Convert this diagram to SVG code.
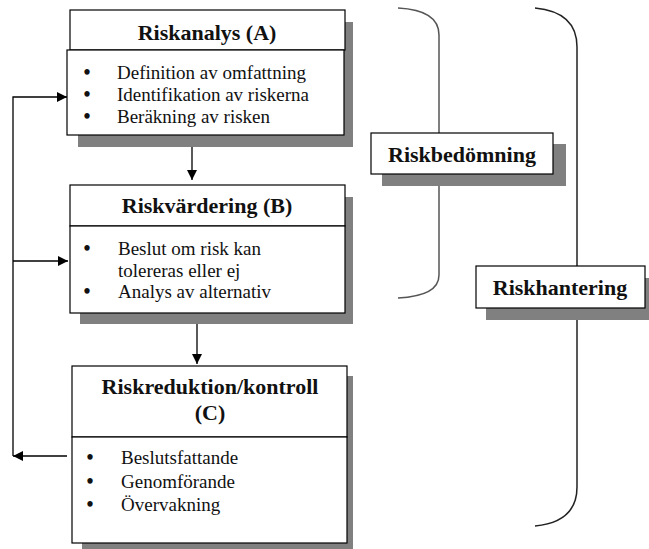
<svg xmlns="http://www.w3.org/2000/svg" width="649" height="549" viewBox="0 0 649 549">
<style>
.box{fill:#fff;stroke:#000;stroke-width:1.2}
.sh{fill:#808080}
.t{font-family:"Liberation Serif","Times New Roman",serif;font-weight:bold;font-size:22px;fill:#111;text-anchor:middle}
.b{font-family:"Liberation Serif","Times New Roman",serif;font-size:19px;fill:#111}
.bu{font-family:"Liberation Serif","Times New Roman",serif;font-size:20px;font-weight:bold;fill:#111;text-anchor:middle}
.ln{stroke:#000;stroke-width:1.3;fill:none}
.br{fill:none;stroke-width:1.5}
</style>
<defs>
<marker id="ah" viewBox="0 0 10 10" refX="10" refY="5" markerWidth="10" markerHeight="10" markerUnits="userSpaceOnUse" orient="auto">
<path d="M0,0 L10,5 L0,10 z" fill="#000"/>
</marker>
</defs>
<rect width="649" height="549" fill="#fff"/>

<g id="brace-bedomning">
<path class="br" stroke="#555" d="M398,8 Q439,10 439,35 L439,275 Q439,296 398,298"/>
</g>
<g id="brace-hantering">
<path class="br" stroke="#222" d="M535,8 Q577,12 577,47 L577,487 Q577,522 535,526"/>
</g>

<g id="connectors">
<line class="ln" x1="192" y1="135" x2="192" y2="180" marker-end="url(#ah)"/>
<line class="ln" x1="197" y1="313" x2="197" y2="364" marker-end="url(#ah)"/>
<line class="ln" x1="67" y1="456" x2="13" y2="456" marker-end="url(#ah)"/>
<polyline class="ln" points="13,456 13,97 67,97" marker-end="url(#ah)"/>
<line class="ln" x1="13" y1="261" x2="68" y2="261" marker-end="url(#ah)"/>
</g>

<g id="riskanalys">
<rect class="sh" x="80" y="22" width="273" height="40"/>
<rect class="sh" x="78" y="60" width="275" height="87"/>
<rect class="box" x="70" y="10" width="275" height="40"/>
<rect class="box" x="67" y="50" width="277" height="85"/>
<text class="t" x="207" y="40">Riskanalys (A)</text>
<text class="bu" x="87" y="79">•</text>
<text class="b" x="117" y="79">Definition av omfattning</text>
<text class="bu" x="87" y="101">•</text>
<text class="b" x="117" y="101">Identifikation av riskerna</text>
<text class="bu" x="87" y="123">•</text>
<text class="b" x="117" y="123">Beräkning av risken</text>
</g>

<g id="riskvardering">
<rect class="sh" x="80" y="197" width="273" height="127"/>
<rect class="box" x="70" y="185" width="275" height="41"/>
<rect class="box" x="70" y="226" width="275" height="87"/>
<text class="t" x="207" y="213">Riskvärdering (B)</text>
<text class="bu" x="87" y="255">•</text>
<text class="b" x="118" y="255">Beslut om risk kan</text>
<text class="b" x="118" y="277">tolereras eller ej</text>
<text class="bu" x="87" y="298">•</text>
<text class="b" x="118" y="298">Analys av alternativ</text>
</g>

<g id="riskreduktion">
<rect class="sh" x="82" y="376" width="271" height="173"/>
<rect class="box" x="72" y="366" width="275" height="71"/>
<rect class="box" x="72" y="437" width="275" height="106"/>
<text class="t" x="210" y="394">Riskreduktion/kontroll</text>
<text class="t" x="210" y="420">(C)</text>
<text class="bu" x="90" y="464">•</text>
<text class="b" x="121" y="464">Beslutsfattande</text>
<text class="bu" x="90" y="488">•</text>
<text class="b" x="121" y="488">Genomförande</text>
<text class="bu" x="90" y="511">•</text>
<text class="b" x="121" y="511">Övervakning</text>
</g>

<g id="riskbedomning">
<rect class="sh" x="382" y="144" width="184" height="42"/>
<rect class="box" x="371" y="133" width="182" height="41"/>
<text class="t" x="462" y="162">Riskbedömning</text>
</g>

<g id="riskhantering">
<rect class="sh" x="486" y="278" width="163" height="42"/>
<rect class="box" x="476" y="266" width="169" height="42"/>
<text class="t" x="560" y="295">Riskhantering</text>
</g>
</svg>
